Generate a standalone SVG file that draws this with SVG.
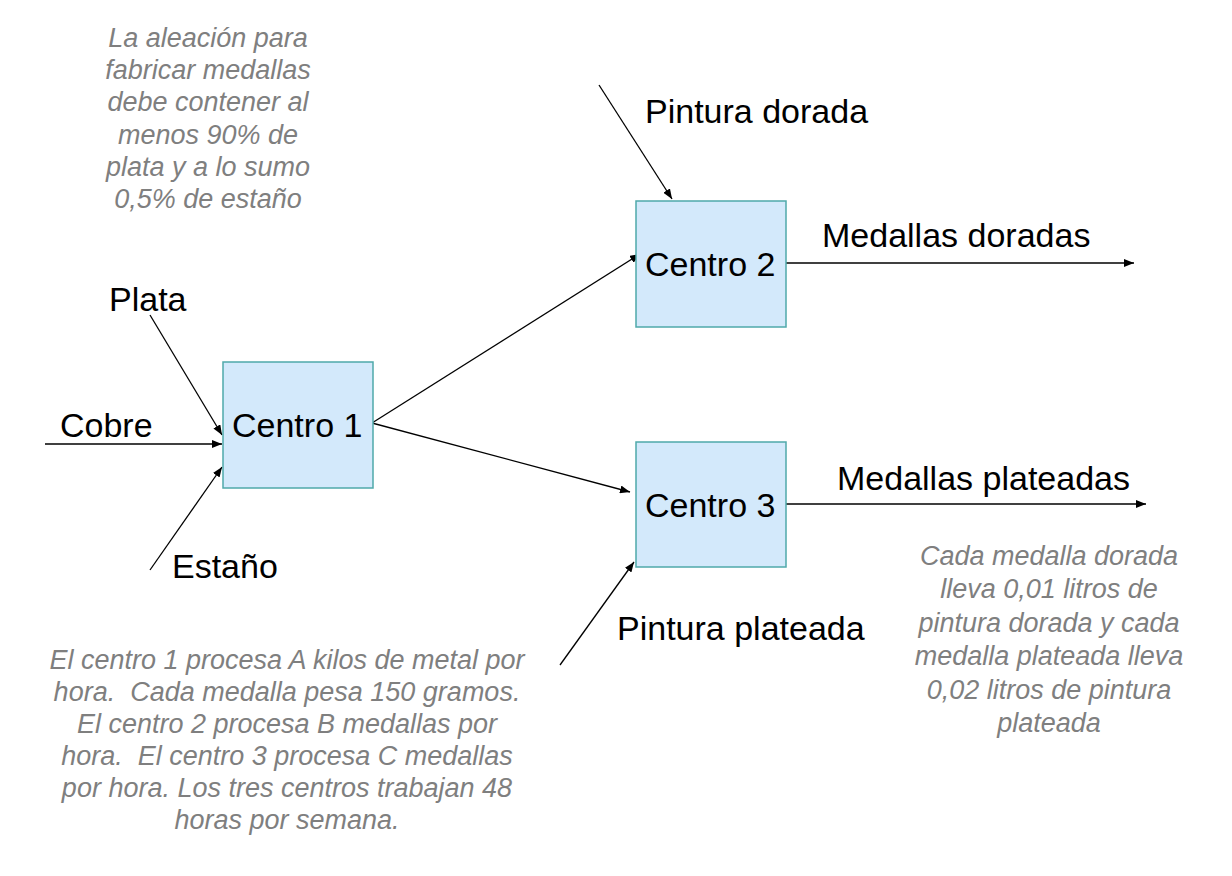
<svg xmlns="http://www.w3.org/2000/svg" width="1232" height="876" viewBox="0 0 1232 876">
<defs>
<style>
.box{fill:#d3e9fb;stroke:#4fa9aa;stroke-width:1.5}
.lbl{font-family:"Liberation Sans",Arial,sans-serif;font-size:34px;fill:#000}
.note{font-family:"Liberation Sans",Arial,sans-serif;font-size:27px;font-style:italic;fill:#7f7f7f;text-anchor:middle;white-space:pre}
.con{stroke:#000;stroke-width:1.3;fill:none;marker-end:url(#arr)}
</style>
<marker id="arr" viewBox="0 0 10 8" refX="10" refY="4" markerWidth="10" markerHeight="8" markerUnits="userSpaceOnUse" orient="auto">
<path d="M0,0 L10,4 L0,8 Z" fill="#000"/>
</marker>
</defs>
<rect width="1232" height="876" fill="#fff"/>

<g id="connectors">
<line class="con" x1="150" y1="315" x2="222" y2="435"/>
<line class="con" x1="45" y1="444" x2="222" y2="444"/>
<line class="con" x1="150" y1="570" x2="222" y2="467"/>
<line class="con" x1="372" y1="423" x2="640" y2="254"/>
<line class="con" x1="372" y1="423" x2="630" y2="492"/>
<line class="con" x1="599" y1="85" x2="672" y2="199"/>
<line class="con" x1="786" y1="263" x2="1134" y2="263"/>
<line class="con" x1="778" y1="504" x2="1146" y2="504"/>
<line class="con" x1="560" y1="665" x2="634" y2="562"/>
</g>

<g id="centro1">
<rect class="box" x="223" y="362" width="150" height="126"/>
<text class="lbl" x="232" y="437">Centro 1</text>
</g>
<g id="centro2">
<rect class="box" x="636" y="201" width="150" height="126"/>
<text class="lbl" x="645" y="276">Centro 2</text>
</g>
<g id="centro3">
<rect class="box" x="636" y="442" width="150" height="125"/>
<text class="lbl" x="645" y="517">Centro 3</text>
</g>

<g id="labels">
<text class="lbl" x="109" y="311">Plata</text>
<text class="lbl" x="60" y="437">Cobre</text>
<text class="lbl" x="172" y="578">Estaño</text>
<text class="lbl" x="645" y="123">Pintura dorada</text>
<text class="lbl" x="822" y="247">Medallas doradas</text>
<text class="lbl" x="837" y="490">Medallas plateadas</text>
<text class="lbl" x="617" y="640">Pintura plateada</text>
</g>

<g id="note-aleacion">
<text class="note" x="208" y="47">La aleación para</text>
<text class="note" x="208" y="79">fabricar medallas</text>
<text class="note" x="208" y="111">debe contener al</text>
<text class="note" x="208" y="144">menos 90% de</text>
<text class="note" x="208" y="176">plata y a lo sumo</text>
<text class="note" x="208" y="208">0,5% de estaño</text>
</g>

<g id="note-centros">
<text class="note" x="287" y="669" xml:space="preserve">El centro 1 procesa A kilos de metal por</text>
<text class="note" x="287" y="701" xml:space="preserve">hora.  Cada medalla pesa 150 gramos.</text>
<text class="note" x="287" y="733" xml:space="preserve">El centro 2 procesa B medallas por</text>
<text class="note" x="287" y="765" xml:space="preserve">hora.  El centro 3 procesa C medallas</text>
<text class="note" x="287" y="797" xml:space="preserve">por hora. Los tres centros trabajan 48</text>
<text class="note" x="287" y="829" xml:space="preserve">horas por semana.</text>
</g>

<g id="note-pintura">
<text class="note" x="1049" y="565">Cada medalla dorada</text>
<text class="note" x="1049" y="598">lleva 0,01 litros de</text>
<text class="note" x="1049" y="632">pintura dorada y cada</text>
<text class="note" x="1049" y="665">medalla plateada lleva</text>
<text class="note" x="1049" y="699">0,02 litros de pintura</text>
<text class="note" x="1049" y="732">plateada</text>
</g>
</svg>
